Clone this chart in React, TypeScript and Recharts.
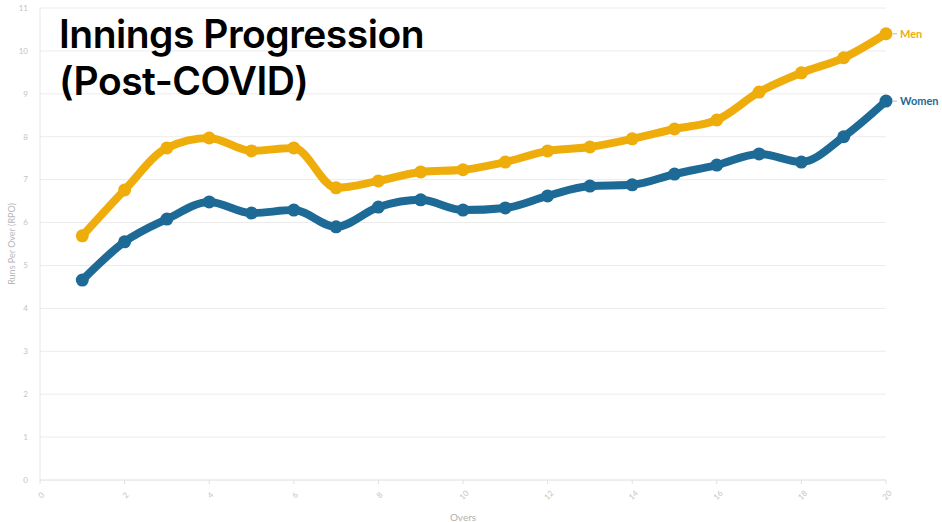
import React from "react";
import { LineChart, Line, XAxis, YAxis, CartesianGrid, LabelList } from "recharts";

const overs = [1, 2, 3, 4, 5, 6, 7, 8, 9, 10, 11, 12, 13, 14, 15, 16, 17, 18, 19, 20];
const menRpo = [5.69, 6.76, 7.74, 7.97, 7.67, 7.74, 6.81, 6.97, 7.18, 7.23, 7.41, 7.67, 7.76, 7.95, 8.18, 8.39, 9.04, 9.49, 9.84, 10.4];
const womenRpo = [4.66, 5.55, 6.08, 6.48, 6.22, 6.29, 5.9, 6.36, 6.53, 6.29, 6.34, 6.62, 6.85, 6.88, 7.13, 7.34, 7.6, 7.41, 8.0, 8.83];
const xTicks = [0, 2, 4, 6, 8, 10, 12, 14, 16, 18, 20];
const yTicks = [0, 1, 2, 3, 4, 5, 6, 7, 8, 9, 10, 11];
const seriesNames = ["Men", "Women"];

const MEN_COLOR = "#EEAD0B";
const WOMEN_COLOR = "#1D6A96";

const data = overs.map((o, i) => ({ over: o, men: menRpo[i], women: womenRpo[i] }));

const makeEndLabel = (name: string, color: string) => (props: any) => {
  const { x, y, index } = props;
  if (index !== overs.length - 1) return null;
  return (
    <g>
      <line x1={x + 7} y1={y} x2={x + 11} y2={y} stroke="#bbb" strokeWidth={1} />
      <text x={x + 14} y={y + 4} fill={color} fontSize={11} fontWeight={700} fontFamily="Lato, 'Open Sans', sans-serif">
        {name}
      </text>
    </g>
  );
};

const XTick = (props: any) => {
  const { x, y, payload } = props;
  return (
    <g transform={`translate(${x + 1},${y + 9})`}>
      <text transform="rotate(-45)" x={0} y={0} dy={3} textAnchor="middle" fill="#c4c4c4" fontSize={8} fontFamily="Lato, 'Open Sans', sans-serif">
        {payload.value}
      </text>
    </g>
  );
};

export default function App() {
  return (
    <div style={{ position: "fixed", left: 0, top: 0, width: 942, height: 522, background: "#fff" }}>
      <LineChart width={942} height={522} data={data} margin={{ top: 8, right: 56, bottom: 0, left: 0 }}>
        <CartesianGrid vertical={false} stroke="#ececec" />
        <XAxis
          dataKey="over"
          type="number"
          domain={[0, 20]}
          ticks={xTicks}
          height={42}
          stroke="#e6e6e6"
          tickLine={{ stroke: "#e0e0e0" }}
          tickSize={4}
          tick={<XTick />}
          label={{ value: "Overs", position: "insideBottom", offset: 1, fill: "#b0b0b0", fontSize: 10, fontFamily: "Lato, 'Open Sans', sans-serif" }}
        />
        <YAxis
          type="number"
          domain={[0, 11]}
          ticks={yTicks}
          width={40}
          stroke="#e6e6e6"
          tickLine={false}
          tick={{ fill: "#c4c4c4", fontSize: 8, fontFamily: "Lato, 'Open Sans', sans-serif" }}
          tickMargin={6}
          label={{ value: "Runs Per Over (RPO)", angle: -90, position: "insideLeft", offset: 12, fill: "#b8b8b8", fontSize: 9, fontFamily: "Lato, 'Open Sans', sans-serif", style: { textAnchor: "middle" } }}
        />
        <Line
          type="monotone"
          dataKey="men"
          name={seriesNames[0]}
          stroke={MEN_COLOR}
          strokeWidth={8}
          dot={{ r: 6.5, fill: MEN_COLOR, stroke: MEN_COLOR, strokeWidth: 0 }}
          isAnimationActive={false}
        >
          <LabelList dataKey="men" content={makeEndLabel(seriesNames[0], MEN_COLOR)} />
        </Line>
        <Line
          type="monotone"
          dataKey="women"
          name={seriesNames[1]}
          stroke={WOMEN_COLOR}
          strokeWidth={8}
          dot={{ r: 6.5, fill: WOMEN_COLOR, stroke: WOMEN_COLOR, strokeWidth: 0 }}
          isAnimationActive={false}
        >
          <LabelList dataKey="women" content={makeEndLabel(seriesNames[1], WOMEN_COLOR)} />
        </Line>
      </LineChart>
      <div
        style={{
          position: "absolute",
          left: 59,
          top: 10,
          fontFamily: "Inter, Lato, sans-serif",
          fontWeight: 600,
          fontSize: 39,
          lineHeight: "47px",
          color: "#000",
          letterSpacing: -0.5,
        }}
      >
        Innings Progression
        <br />
        (Post-COVID)
      </div>
    </div>
  );
}
